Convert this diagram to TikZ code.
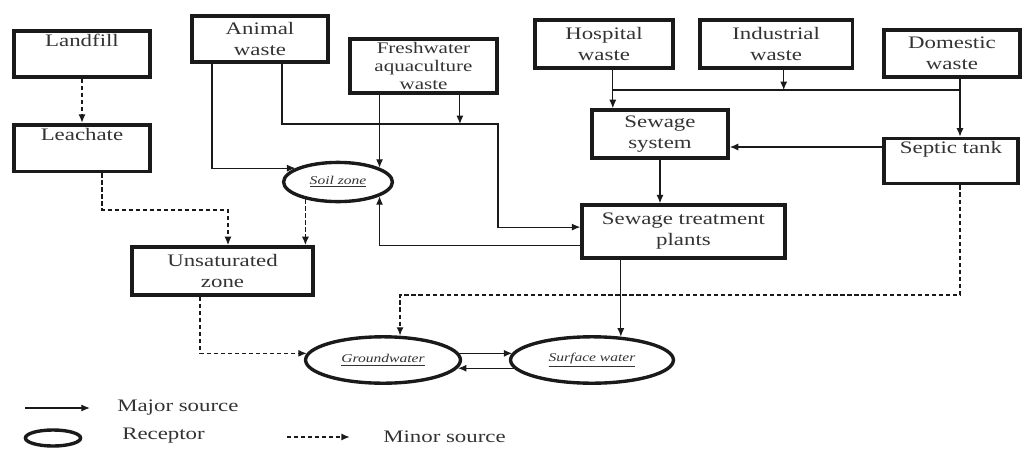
\documentclass[tikz,border=0pt]{standalone}
\usepackage{fontspec}
\setmainfont{Liberation Serif}[FakeStretch=1.3]
\usetikzlibrary{shapes.geometric, arrows.meta, positioning, calc, shadows}
\definecolor{inkgray}{HTML}{333333}
\definecolor{linegray}{HTML}{1A1A1A}

\begin{document}
\begin{tikzpicture}[
    x=0.025cm, y=-0.025cm,
    font=\fontsize{12.5}{15}\selectfont,
    text=inkgray,
    box/.style={draw=linegray, line width=2.6pt, fill=white, align=center, inner sep=2pt,
      drop shadow={shadow xshift=1pt, shadow yshift=-1pt, opacity=0.25}},
    recep/.style={ellipse, draw=linegray, line width=2.4pt, fill=white, inner sep=0pt,
      font=\fontsize{8.5}{10}\selectfont\itshape,
      drop shadow={shadow xshift=1pt, shadow yshift=-1pt, opacity=0.2}},
    major/.style={draw=linegray, line width=0.75pt, -{Latex[length=6pt,width=5pt]}},
    minor/.style={major, dash pattern=on 3pt off 2pt, line width=1pt},
    plain/.style={draw=linegray, line width=0.75pt},
    legtxt/.style={inner sep=0pt, anchor=west},
  ]
    \useasboundingbox (0,0) rectangle (1026,448);

    % sources
    \node[box, minimum width=3.4cm, minimum height=1.15cm] (landfill) at (82,54) {Landfill\\\strut};
    \node[box, minimum width=3.4cm, minimum height=1.17cm, below=1.1cm of landfill] (leachate) {Leachate\\\strut};
    \node[box, minimum width=3.4cm, minimum height=1.15cm] (animal) at (260,39) {Animal\\waste};
    \node[box, minimum width=3.67cm, minimum height=1.32cm, inner xsep=0pt, inner ysep=2.5pt,
      font=\fontsize{11.5}{12.5}\selectfont] (fresh) at (423.5,66) {Freshwater\\aquaculture\\waste};
    \node[box, minimum width=3.45cm, minimum height=1.2cm] (hosp) at (604,44) {Hospital\\waste};
    \node[box, minimum width=3.82cm, minimum height=1.2cm, right=0.575cm of hosp] (indus) {Industrial\\waste};
    \node[box, minimum width=3.4cm, minimum height=1.17cm] (domestic) at (952,53.5) {Domestic\\waste};
    \node[box, minimum width=3.4cm, minimum height=1.2cm] (sewsys) at (660,134) {Sewage\\system};
    \node[box, minimum width=3.35cm, minimum height=1.1cm] (septic) at (951,161) {Septic tank\\\strut};
    \node[box, minimum width=5.07cm, minimum height=1.32cm] (stp) at (683.5,231.5) {Sewage treatment\\plants};
    \node[box, minimum width=4.52cm, minimum height=1.2cm] (unsat) at (222.5,271) {Unsaturated\\zone};

    % receptors
    \node[recep, minimum width=2.72cm, minimum height=0.98cm] (soil) at (338,182) {\underline{Soil zone}};
    \node[recep, minimum width=3.87cm, minimum height=1.16cm] (gw) at (383,360) {\underline{Groundwater}};
    \node[recep, minimum width=4.07cm, minimum height=1.16cm] (sw) at (592,360) {\underline{Surface water}};

    % bend points
    \coordinate (leachbend) at (228,210);
    \coordinate (animbend) at (498,124);
    \coordinate (bus) at (700,90);
    \coordinate (septbend) at (960,295);
    \coordinate (hospout) at ([xshift=0.22cm]hosp.south);
    \coordinate (indout) at ([xshift=0.19cm]indus.south);
    \coordinate (domout) at ([xshift=0.2cm]domestic.south);
    \coordinate (freshout) at ([xshift=0.91cm]fresh.south);
    \coordinate (septout) at ([yshift=0.35cm]septic.west);

    % minor paths
    \draw[minor] (landfill) -- (leachate);
    \draw[minor] ([xshift=0.5cm]leachate.south) |- (leachbend) -- (leachbend |- unsat.north);
    \draw[minor] (soil.208) -- (soil.208 |- unsat.north);
    \draw[minor] (septic.south -| septbend) -- (septbend) -| (gw.55);
    \draw[minor] ([xshift=-0.56cm]unsat.south) |- (gw.175);

    % major paths
    \draw[major] ([xshift=-1.2cm]animal.south) |- (soil.162);
    \draw[major] ([xshift=0.55cm]animal.south) |- (animbend) |- ([yshift=0.11cm]stp.west);
    \draw[major] (fresh.south -| soil.19) -- (soil.19);
    \draw[major] (freshout) -- (freshout |- animbend);
    \draw[major] ([yshift=-0.36cm]stp.west) -| (soil.-19);
    \draw[plain] (hospout |- bus) -- (domout |- bus);
    \draw[major] (hospout) -- (hospout |- sewsys.north);
    \draw[major] (indout) -- (indout |- bus);
    \draw[major] (domout) -- (domout |- septic.north);
    \draw[major] (septout) -- (septout -| sewsys.east);
    \draw[major] (sewsys) -- (sewsys |- stp.north);
    \draw[major] (stp.south -| sw.39) -- (sw.39);
    \draw[major] (gw.5) -- (gw.5 -| sw.175);
    \draw[major] (sw.186) -- (sw.186 -| gw.-6);

    % legend
    \node[legtxt] (majtxt) at (117,408) {Major source};
    \coordinate (majtail) at (25,408);
    \draw[major] (majtail) -- ([xshift=-0.68cm]majtxt.west);
    \node[recep, minimum width=1.38cm, minimum height=0.4cm] (legrec) at (53,438) {};
    \node[legtxt] (rectxt) at (122,436) {Receptor};
    \node[legtxt] (mintxt) at (383,437) {Minor source};
    \coordinate (mintail) at (287,437);
    \draw[minor] (mintail) -- ([xshift=-0.83cm]mintxt.west);
  \end{tikzpicture}
\end{document}
